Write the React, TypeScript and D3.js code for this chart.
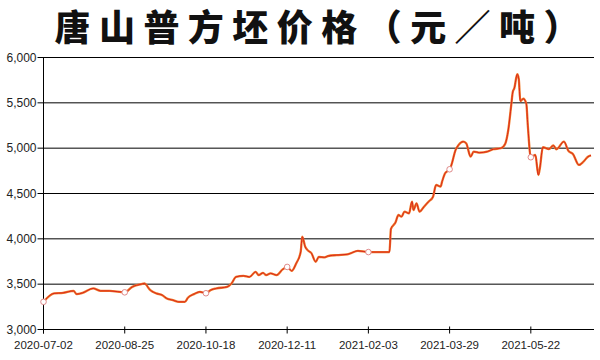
import React from "react";
import * as d3 from "d3";

const titleText = "唐山普方坯价格（元／吨）";

const dates = [
  "2020-07-02","2020-07-09","2020-07-15","2020-07-22","2020-07-24","2020-07-28","2020-08-04","2020-08-09","2020-08-15","2020-08-25",
  "2020-08-30","2020-09-05","2020-09-07","2020-09-11","2020-09-15","2020-09-19","2020-09-22","2020-09-26","2020-09-30","2020-10-04",
  "2020-10-06","2020-10-10","2020-10-14","2020-10-18","2020-10-21","2020-10-25","2020-11-01","2020-11-04","2020-11-07","2020-11-12",
  "2020-11-16","2020-11-20","2020-11-22","2020-11-25","2020-11-27","2020-11-30","2020-12-04","2020-12-08","2020-12-11","2020-12-14",
  "2020-12-17","2020-12-20","2020-12-21","2020-12-23","2020-12-25","2020-12-27","2020-12-30","2021-01-01","2021-01-05","2021-01-07",
  "2021-01-13","2021-01-20","2021-01-22","2021-01-27","2021-02-03","2021-02-17","2021-02-18","2021-02-21","2021-02-23","2021-02-25",
  "2021-02-27","2021-03-02","2021-03-04","2021-03-05","2021-03-07","2021-03-09","2021-03-12","2021-03-15","2021-03-18","2021-03-20",
  "2021-03-23","2021-03-24","2021-03-26","2021-03-29","2021-03-30","2021-04-02","2021-04-04","2021-04-07","2021-04-09","2021-04-12",
  "2021-04-14","2021-04-18","2021-04-23","2021-04-27","2021-05-02","2021-05-05","2021-05-07","2021-05-09","2021-05-10","2021-05-11",
  "2021-05-13","2021-05-14","2021-05-15","2021-05-17","2021-05-19","2021-05-20","2021-05-22","2021-05-25","2021-05-27","2021-05-28",
  "2021-05-30","2021-06-03","2021-06-06","2021-06-08","2021-06-13","2021-06-16","2021-06-19","2021-06-23","2021-06-26","2021-06-29",
  "2021-07-01"
];

const prices = [
  3305,3398,3404,3426,3390,3404,3453,3426,3426,3410,
  3470,3500,3508,3434,3398,3379,3342,3324,3305,3305,
  3350,3390,3416,3400,3434,3453,3470,3508,3581,3592,
  3580,3636,3600,3625,3600,3619,3600,3663,3690,3647,
  3729,3857,4023,3912,3868,3845,3747,3800,3796,3810,
  3821,3829,3839,3868,3854,3854,4110,4180,4263,4244,
  4299,4281,4410,4318,4392,4299,4355,4410,4465,4594,
  4576,4631,4723,4767,4804,4981,5036,5072,5054,4906,
  4962,4950,4962,4988,4999,5050,5200,5480,5620,5660,
  5815,5760,5520,5545,5490,5250,4900,4925,4704,4778,
  5010,4990,5030,4988,5072,4970,4935,4815,4851,4906,
  4920
];

const xTickDates = ["2020-07-02","2020-08-25","2020-10-18","2020-12-11","2021-02-03","2021-03-29","2021-05-22"];
const yTicks = [3000, 3500, 4000, 4500, 5000, 5500, 6000];
const domainStart = "2020-07-02";
const domainEnd = "2021-07-03";

export default function App() {
  const parse = d3.timeParse("%Y-%m-%d");
  const data = dates.map((d, i) => ({ key: d, date: parse(d)!, value: prices[i] }));

  const left = 43.5, right = 594, top = 57.5, bottom = 329.5;
  const x = d3.scaleTime().domain([parse(domainStart)!, parse(domainEnd)!]).range([left, right]);
  const y = d3.scaleLinear().domain([3000, 6000]).range([bottom, top]);

  const line = d3.line<{ date: Date; value: number }>()
    .x(d => x(d.date))
    .y(d => y(d.value))
    .curve(d3.curveMonotoneX);
  const path = line(data) || "";

  const markers = xTickDates.map(s => data.find(d => d.key === s)!).filter(Boolean);
  const fmt = d3.format(",");
  const tickFont = "'Liberation Sans', Arial, sans-serif";

  return (
    <svg width={600} height={360} style={{ position: "absolute", left: 0, top: 0, background: "#fff" }}>
      <rect x={0} y={0} width={600} height={360} fill="#fff" />
      <text x={317} y={41} textAnchor="middle" fontFamily="'Noto Sans CJK SC', sans-serif" fontWeight={900}
        fontSize={36} fill="#111" textLength={525} lengthAdjust="spacing">{titleText}</text>

      {yTicks.map(t => (
        <g key={t}>
          <line x1={left - 6} x2={right} y1={y(t)} y2={y(t)} stroke="#000" strokeWidth={1} />
          <text x={left - 7} y={y(t) + 4} textAnchor="end" fontFamily={tickFont} fontSize={12} fill="#222">{fmt(t)}</text>
        </g>
      ))}
      <line x1={left} x2={left} y1={top} y2={bottom + 4} stroke="#000" strokeWidth={1} />

      {xTickDates.map(s => {
        const xv = x(parse(s)!);
        return (
          <g key={s}>
            <line x1={xv} x2={xv} y1={bottom - 3} y2={bottom + 4} stroke="#000" strokeWidth={1} />
            <text x={xv} y={bottom + 19} textAnchor="middle" fontFamily={tickFont} fontSize={11.5} fill="#222">{s}</text>
          </g>
        );
      })}

      <path d={path} fill="none" stroke="#f07a2a" strokeWidth={2.3} strokeLinejoin="round" />
      <path d={path} fill="none" stroke="#d9261c" strokeWidth={1} strokeLinejoin="round" />

      {markers.map((d, i) => (
        <circle key={i} cx={x(d.date)} cy={y(d.value)} r={2.8} fill="#fff" stroke="#e08a8a" strokeWidth={1} />
      ))}
    </svg>
  );
}
